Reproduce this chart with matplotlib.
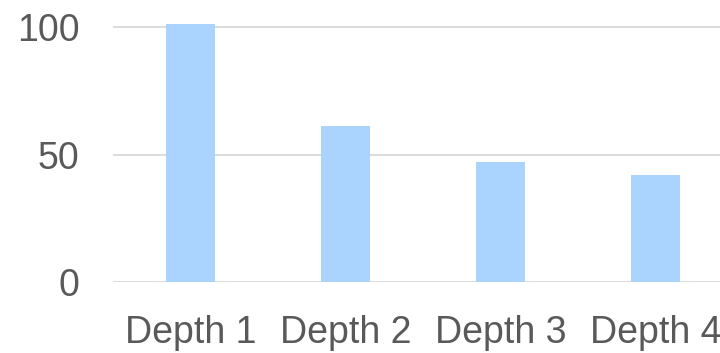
import numpy as np
import matplotlib.pyplot as plt

plt.rcParams['font.family'] = ['Liberation Sans', 'DejaVu Sans']

depths = ['Depth 1', 'Depth 2', 'Depth 3', 'Depth 4']
values = [101, 61, 47, 42]
yticks = [0, 50, 100]

fig = plt.figure(figsize=(7.2, 3.53), dpi=100)
# axes runs past the right edge, so the last category is cut off
ax = fig.add_axes([0.157, 0.2003, 0.861, 0.760])

x = np.arange(len(depths))
ax.bar(x, values, width=0.316, color='#aad4fd', zorder=2)

ax.set_xlim(-0.5, 3.5)
ax.set_ylim(0, 105)
ax.set_yticks(yticks)
ax.set_xticks(x)
ax.set_xticklabels(depths)
ax.grid(axis='y', color='#d9d9d9', linewidth=1.3, zorder=0)
for s in ax.spines.values():
    s.set_visible(False)
ax.tick_params(length=0, labelsize=27, labelcolor='#595959')
ax.tick_params(axis='x', pad=23.5)
ax.tick_params(axis='y', pad=24)

fig.savefig('out.png', dpi=100)
